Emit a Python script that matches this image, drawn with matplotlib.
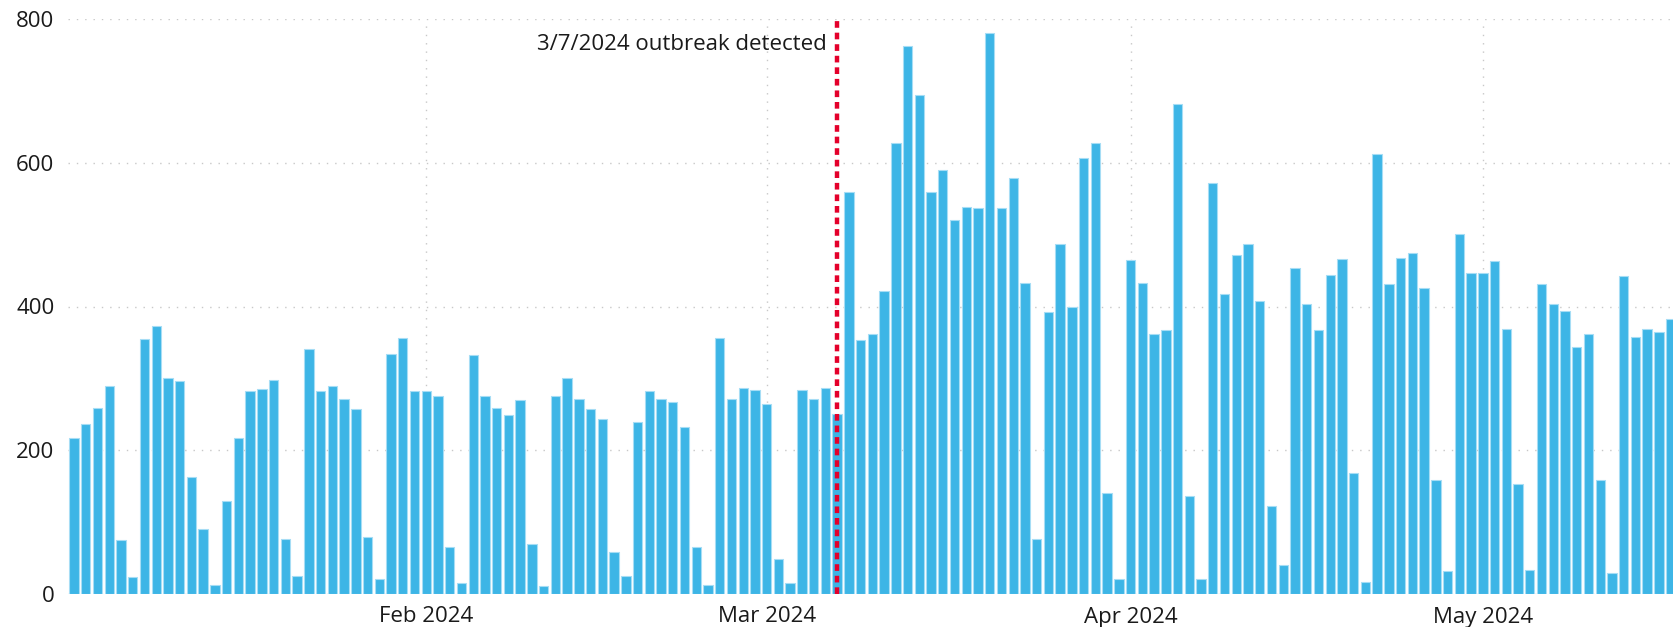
import matplotlib
matplotlib.use("Agg")
import matplotlib.pyplot as plt
import matplotlib.dates as mdates
import pandas as pd

plt.rcParams['font.family'] = ['Open Sans', 'DejaVu Sans']

# daily counts, Jan 2 2024 .. May 17 2024
jan = [217, 236, 259, 289, 75, 23, 355, 373, 300, 297, 163, 90, 13, 129, 217,
       282, 285, 298, 76, 25, 341, 283, 289, 272, 258, 79, 21, 334, 356, 282]
feb = [283, 276, 66, 16, 332, 276, 259, 249, 270, 69, 11, 276, 301, 272, 258,
       244, 59, 25, 239, 282, 272, 267, 233, 66, 12, 356, 271, 287, 284]
mar = [264, 49, 16, 284, 272, 287, 251, 560, 353, 362, 422, 628, 762, 694, 559,
       590, 520, 538, 537, 781, 537, 579, 433, 76, 392, 487, 399, 606, 627, 140, 21]
apr = [465, 433, 362, 368, 682, 136, 21, 572, 417, 471, 487, 408, 123, 41, 453,
       403, 367, 444, 466, 169, 17, 612, 431, 467, 474, 426, 159, 32, 501, 447]
may = [447, 463, 369, 153, 33, 431, 403, 394, 344, 362, 159, 29, 442, 358, 369,
       364, 383]

dates = pd.date_range("2024-01-02", "2024-05-17", freq="D")
counts = jan + feb + mar + apr + may

outbreak_date = pd.Timestamp("2024-03-07")
outbreak_label = "3/7/2024 outbreak detected"
month_ticks = pd.to_datetime(["2024-02-01", "2024-03-01", "2024-04-01", "2024-05-01"])
y_ticks = [0, 200, 400, 600, 800]

fig = plt.figure(figsize=(16.73, 6.27), dpi=100)
ax = fig.add_axes([68.3 / 1673, 1 - 594 / 627, 1 - 68.3 / 1673, 575 / 627])

ax.bar(dates, counts, width=0.8, color="#3DB5E6", edgecolor="#A6DDF5", linewidth=0.8, zorder=2)

# outbreak marker
ax.axvline(outbreak_date, color="#E4002B", linewidth=3.2, linestyle=(0, (1.5, 1.1)), zorder=3)
ax.text(outbreak_date - pd.Timedelta(days=0.9), 765, outbreak_label,
        ha="right", va="center", fontsize=16, color="#1a1a1a")

ax.set_xlim(dates[0] - pd.Timedelta(days=0.49), dates[0] + pd.Timedelta(days=136.2))
ax.set_ylim(0, 800)
ax.set_yticks(y_ticks)
ax.set_xticks(month_ticks)
ax.xaxis.set_major_formatter(mdates.DateFormatter("%b %Y"))

ax.grid(True, color="#C8C8C8", linestyle=(0, (1, 5)), linewidth=1, zorder=0)
ax.set_axisbelow(True)
for s in ax.spines.values():
    s.set_visible(False)
ax.tick_params(length=0, labelsize=16, colors="#1a1a1a")
ax.tick_params(axis="x", pad=9)
ax.tick_params(axis="y", pad=10)

fig.savefig("out.png", dpi=100)
